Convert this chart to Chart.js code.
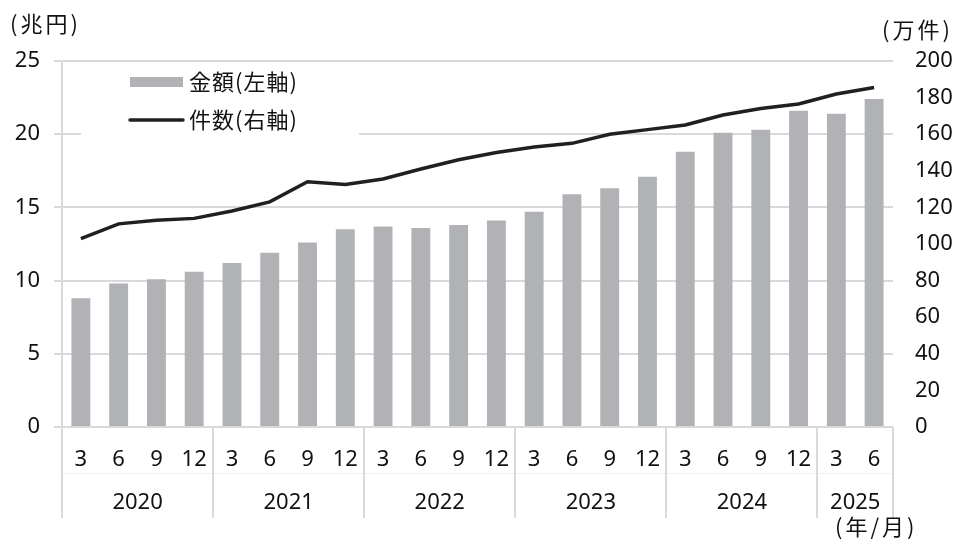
<!doctype html>
<html>
<head>
<meta charset="utf-8">
<title>金額と件数</title>
<script src="https://cdn.jsdelivr.net/npm/chart.js@4.4.1/dist/chart.umd.min.js"></script>
<style>
    body { margin: 0; background: #fff; }
    #wrap { position: relative; width: 955px; height: 539px; }
</style>
</head>
<body>
<div id="wrap"><canvas id="chart" width="955" height="539"></canvas></div>
<script>
    // data
    const months = ['3','6','9','12','3','6','9','12','3','6','9','12','3','6','9','12','3','6','9','12','3','6'];
    const years = ['2020', '2021', '2022', '2023', '2024', '2025'];
    const yearSpans = [4, 4, 4, 4, 4, 2]; // number of months under each year
    const amount = [8.8, 9.8, 10.1, 10.6, 11.2, 11.9, 12.6, 13.5, 13.7, 13.6, 13.8, 14.1,
                    14.7, 15.9, 16.3, 17.1, 18.8, 20.1, 20.3, 21.6, 21.4, 22.4];
    const count = [103, 111, 113, 114, 118, 123, 134, 132.5, 135.5, 141, 146, 150,
                   153, 155, 160, 162.5, 165, 170.5, 174, 176.5, 182, 185.5];
    const leftTicks = [0, 5, 10, 15, 20, 25];
    const rightTicks = [0, 20, 40, 60, 80, 100, 120, 140, 160, 180, 200];

    const FONT = '"Noto Sans", "Noto Sans CJK JP", sans-serif';
    const JFONT = '"Noto Sans CJK JP", sans-serif';
    const GRID = '#d9d9d9';

    // year row, separators, unit captions and the legend
    const extras = {
        id: 'extras',
        afterDraw(chart) {
            const ctx = chart.ctx;
            const x = chart.scales.x;
            const area = chart.chartArea;
            const half = (x.getPixelForValue(1) - x.getPixelForValue(0)) / 2;
            ctx.save();
            // faint line between the month and year rows
            ctx.strokeStyle = '#f0f0f0';
            ctx.lineWidth = 1;
            ctx.beginPath();
            ctx.moveTo(area.left, 473.5);
            ctx.lineTo(area.right, 473.5);
            ctx.stroke();

            ctx.strokeStyle = GRID;
            ctx.lineWidth = 2;
            let start = 0;
            const edges = [x.getPixelForValue(0) - half];
            years.forEach((y, k) => {
                const end = start + yearSpans[k] - 1;
                edges.push(x.getPixelForValue(end) + half);
                const cx = (x.getPixelForValue(start) + x.getPixelForValue(end)) / 2;
                ctx.fillStyle = '#111';
                ctx.font = '22px ' + FONT;
                ctx.textAlign = 'center';
                ctx.textBaseline = 'middle';
                ctx.fillText(y, cx, 503);
                start = end + 1;
            });
            edges.forEach(e => {
                ctx.beginPath();
                ctx.moveTo(Math.round(e), area.bottom);
                ctx.lineTo(Math.round(e), 518);
                ctx.stroke();
            });

            ctx.fillStyle = '#111';
            ctx.font = '22px ' + JFONT;
            ctx.textBaseline = 'middle';
            ctx.textAlign = 'left';
            ctx.letterSpacing = '3px';
            ctx.fillText('(兆円)', 10, 24);
            ctx.fillText('(万件)', 882, 30);
            ctx.fillText('(年/月)', 835, 527);
            ctx.letterSpacing = '0px';

            // legend box inside the plot
            ctx.fillStyle = '#fff';
            ctx.fillRect(81, 66, 278, 76);
            const ds = chart.data.datasets;
            ctx.fillStyle = ds[0].backgroundColor;
            ctx.fillRect(130, 77, 53, 10);
            ctx.strokeStyle = ds[1].borderColor;
            ctx.lineWidth = 3.5;
            ctx.lineCap = 'round';
            ctx.beginPath();
            ctx.moveTo(130, 120);
            ctx.lineTo(183, 120);
            ctx.stroke();
            ctx.fillStyle = '#111';
            ctx.font = '22px ' + JFONT;
            ctx.letterSpacing = '1px';
            ctx.fillText(ds[0].label, 189, 82);
            ctx.fillText(ds[1].label, 189, 120);
            ctx.restore();
        }
    };

    const ctx = document.getElementById('chart');
    const myChart = new Chart(ctx, {
        type: 'bar',
        data: {
            labels: months,
            datasets: [{
                label: '金額(左軸)',
                data: amount,
                yAxisID: 'y',
                backgroundColor: '#b1b2b5',
                barPercentage: 0.5,
                categoryPercentage: 1.0,
                order: 1
            }, {
                type: 'line',
                label: '件数(右軸)',
                data: count,
                yAxisID: 'y1',
                borderColor: '#231f20',
                backgroundColor: '#231f20',
                borderWidth: 3.5,
                pointRadius: 0,
                tension: 0,
                order: 0
            }]
        },
        plugins: [extras],
        options: {
            responsive: false,
            animation: false,
            layout: { padding: { top: 61, bottom: 0, left: 0, right: 0 } },
            plugins: {
                legend: { display: false },
                tooltip: { enabled: false }
            },
            scales: {
                x: {
                    grid: { display: false },
                    border: { display: false },
                    ticks: {
                        color: '#111',
                        font: { family: FONT, size: 22 },
                        padding: 12,
                        maxRotation: 0,
                        autoSkip: false
                    },
                    afterFit(scale) { scale.height = 112; }
                },
                y: {
                    position: 'left',
                    min: 0,
                    max: 25,
                    afterBuildTicks(scale) { scale.ticks = leftTicks.map(v => ({ value: v })); },
                    grid: { color: GRID, lineWidth: 2, tickLength: 8 },
                    border: { color: GRID, width: 2 },
                    ticks: {
                        color: '#111',
                        font: { family: FONT, size: 22 },
                        padding: 14
                    },
                    afterFit(scale) { scale.width = 62; }
                },
                y1: {
                    position: 'right',
                    min: 0,
                    max: 200,
                    afterBuildTicks(scale) { scale.ticks = rightTicks.map(v => ({ value: v })); },
                    grid: { display: false, drawTicks: false },
                    border: { display: false },
                    ticks: {
                        color: '#111',
                        font: { family: FONT, size: 22 },
                        padding: 22
                    },
                    afterFit(scale) { scale.width = 62; }
                }
            }
        }
    });
</script>
</body>
</html>
